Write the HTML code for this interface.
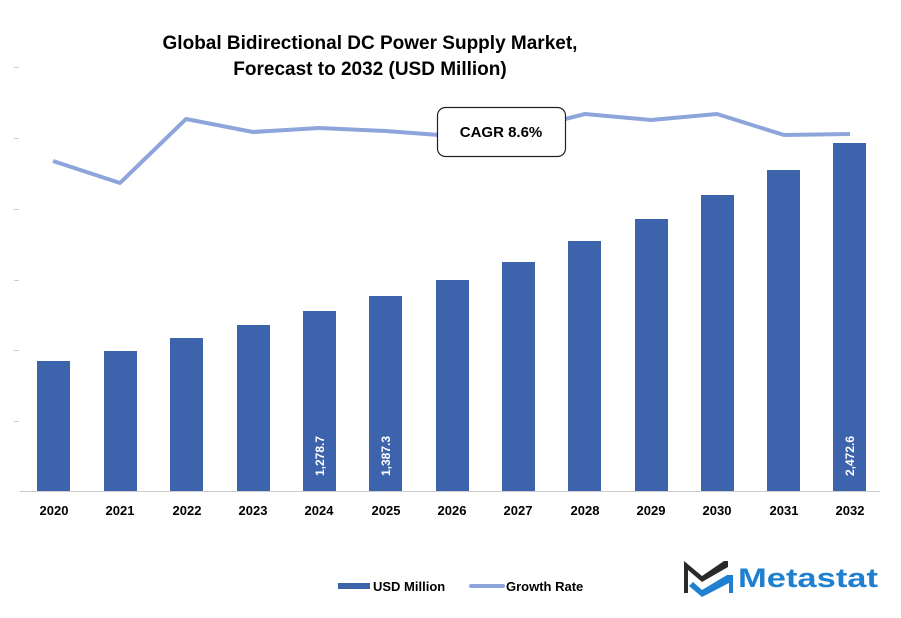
<!DOCTYPE html>
<html><head><meta charset="utf-8"><style>
body{margin:0;background:#fff;}
svg{display:block;font-family:"Liberation Sans",sans-serif;}
</style></head><body>
<svg width="901" height="618" viewBox="0 0 901 618">
<text x="370" y="49" text-anchor="middle" font-size="19" font-weight="bold" fill="#000">Global Bidirectional DC Power Supply Market,</text>
<text x="370" y="75" text-anchor="middle" font-size="19" font-weight="bold" fill="#000">Forecast to 2032 (USD Million)</text>
<g fill="#ccc">
<rect x="14" y="67" width="5" height="1"/><rect x="14" y="138" width="5" height="1"/><rect x="14" y="209" width="5" height="1"/><rect x="14" y="280" width="5" height="1"/><rect x="14" y="350" width="5" height="1"/><rect x="14" y="421" width="5" height="1"/>
</g>
<g fill="#3c63ac">
<rect x="37" y="361" width="33" height="130"/>
<rect x="104" y="351" width="33" height="140"/>
<rect x="170" y="338" width="33" height="153"/>
<rect x="237" y="325" width="33" height="166"/>
<rect x="303" y="311" width="33" height="180"/>
<rect x="369" y="296" width="33" height="195"/>
<rect x="436" y="280" width="33" height="211"/>
<rect x="502" y="262" width="33" height="229"/>
<rect x="568" y="241" width="33" height="250"/>
<rect x="635" y="219" width="33" height="272"/>
<rect x="701" y="195" width="33" height="296"/>
<rect x="767" y="170" width="33" height="321"/>
<rect x="833" y="143" width="33" height="348"/>
</g>
<line x1="20" y1="491.5" x2="880" y2="491.5" stroke="#ccc" stroke-width="1"/>
<g fill="#fff" font-size="12" font-weight="bold" text-anchor="middle">
<text transform="translate(324,456) rotate(-90)">1,278.7</text>
<text transform="translate(390,456) rotate(-90)">1,387.3</text>
<text transform="translate(854,456) rotate(-90)">2,472.6</text>
</g>
<polyline fill="none" stroke="#8ea5dc" stroke-width="4" stroke-linejoin="round" points="53,161 120,183 186,119 253,132 319,128 386,131 452,136 518,131 585,114 651,120 717,114 784,135 850,134"/>
<rect x="437.5" y="107.5" width="128" height="49" rx="8" fill="#fff" stroke="#222" stroke-width="1.2"/>
<text x="501" y="137" text-anchor="middle" font-size="15" font-weight="bold" fill="#000">CAGR 8.6%</text>
<g font-size="13" font-weight="bold" text-anchor="middle" fill="#000">
<text x="54" y="515">2020</text><text x="120" y="515">2021</text><text x="187" y="515">2022</text><text x="253" y="515">2023</text><text x="319" y="515">2024</text><text x="386" y="515">2025</text><text x="452" y="515">2026</text><text x="518" y="515">2027</text><text x="585" y="515">2028</text><text x="651" y="515">2029</text><text x="717" y="515">2030</text><text x="784" y="515">2031</text><text x="850" y="515">2032</text>
</g>
<rect x="338" y="583" width="32" height="6" fill="#3c63ac"/>
<text x="373" y="591" font-size="13" font-weight="bold">USD Million</text>
<line x1="471" y1="586" x2="503" y2="586" stroke="#8ea5dc" stroke-width="4" stroke-linecap="round"/>
<text x="506" y="591" font-size="13" font-weight="bold">Growth Rate</text>
<path d="M684,593 L684,561 L702,576 L724,561 L728,561 L728,567 L702,582 L688,570 L688,593 Z" fill="#2a2a2a"/>
<path d="M702,590 L727,575 L733,575 L733,593 L729,593 L729,583 L702,597 L689,586 L693,582 Z" fill="#1f7fd0"/>
<text x="738" y="587" font-size="27" font-weight="bold" fill="#1f7fd0" textLength="140" lengthAdjust="spacingAndGlyphs">Metastat</text>
</svg>
</body></html>
